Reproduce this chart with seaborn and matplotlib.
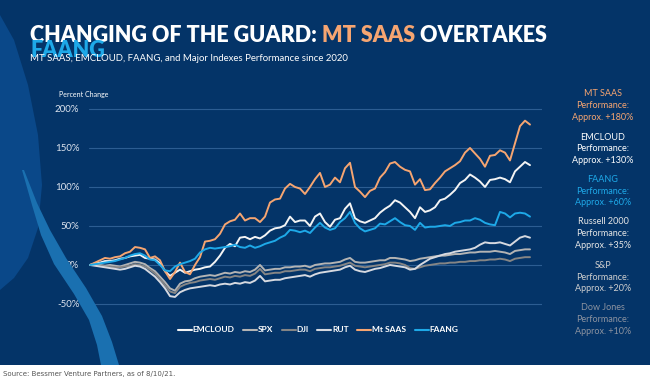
import matplotlib
matplotlib.use("Agg")
import matplotlib.pyplot as plt
import numpy as np
import pandas as pd
import seaborn as sns
from matplotlib.patches import Polygon, Rectangle

# ---------------- data (percent change since 2020) ----------------
mt_saas = [0, 3, 6, 9, 8, 10, 11, 15, 17, 23, 22, 20, 9, 11, 6, -8, -18, -9, 3, -9,
           -12, 0, 10, 30, 31, 33, 40, 52, 56, 58, 66, 57, 60, 60, 55, 62, 80, 84, 85, 98,
           104, 100, 98, 91, 100, 110, 118, 100, 103, 112, 106, 124, 131, 100, 94, 87, 95, 98, 112, 119,
           130, 132, 126, 122, 120, 103, 110, 96, 97, 105, 112, 120, 124, 128, 133, 144, 150, 143, 136, 126,
           140, 141, 147, 144, 134, 156, 178, 185, 180]
emcloud = [0, 2, 3, 5, 5, 6, 8, 9, 11, 12, 13, 9, 8, 7, 2, -8, -14, -10, -6, -10,
           -8, -6, -5, -3, -2, 4, 12, 22, 27, 24, 35, 36, 33, 36, 34, 38, 44, 47, 48, 51,
           62, 55, 57, 57, 50, 62, 66, 55, 49, 58, 60, 72, 79, 60, 56, 54, 57, 60, 67, 72,
           76, 83, 80, 74, 68, 60, 74, 68, 70, 74, 83, 85, 90, 96, 105, 109, 116, 112, 107, 100,
           109, 110, 112, 110, 106, 120, 126, 132, 128]
faang = [0, 1, 2, 3, 4, 5, 7, 9, 12, 14, 15, 12, 7, 6, 0, -7, -8, -2, 1, 3,
         5, 8, 16, 20, 22, 21, 22, 23, 24, 26, 23, 22, 25, 22, 24, 27, 29, 31, 35, 38,
         45, 44, 42, 44, 41, 48, 54, 48, 45, 47, 55, 60, 68, 54, 47, 43, 45, 47, 53, 52,
         56, 60, 55, 51, 50, 45, 54, 48, 49, 49, 50, 51, 50, 54, 55, 57, 57, 60, 58, 54,
         52, 51, 68, 66, 61, 66, 67, 66, 62]
spx = [0, 1, 0, -1, 0, -1, -2, 0, 2, 4, 3, 1, -4, -8, -15, -22, -30, -33, -24, -21,
       -20, -17, -15, -14, -13, -14, -12, -10, -11, -9, -10, -8, -9, -6, 0, -7, -6, -5, -5, -3,
       -3, -2, -2, -1, -3, 0, 1, 2, 2, 3, 4, 7, 9, 4, 3, 3, 4, 5, 6, 6,
       9, 9, 8, 7, 5, 6, 8, 9, 10, 11, 12, 12, 13, 14, 14, 15, 16, 16, 17, 17,
       17, 18, 17, 16, 14, 18, 19, 20, 20]
dji = [0, 0, -1, -2, -2, -3, -3, -2, -1, 1, 0, -2, -6, -11, -18, -26, -34, -36, -28, -25,
       -23, -22, -20, -19, -18, -19, -17, -15, -16, -14, -15, -13, -14, -11, -5, -12, -11, -10, -10, -8,
       -8, -7, -6, -6, -8, -5, -4, -3, -3, -2, -1, 1, 3, -1, -2, -3, -2, -1, 0, 1,
       3, 3, 2, 0, -4, -5, -3, -1, 0, 1, 2, 2, 3, 3, 4, 4, 5, 5, 6, 6,
       7, 7, 8, 7, 5, 8, 9, 10, 10]
rut = [0, -1, -2, -3, -4, -5, -6, -5, -3, -1, -2, -5, -10, -15, -22, -30, -40, -41, -35, -32,
       -30, -29, -28, -27, -26, -27, -25, -24, -25, -23, -24, -22, -23, -20, -14, -21, -20, -19, -19, -17,
       -16, -15, -14, -13, -15, -12, -10, -9, -8, -7, -6, -3, -1, -6, -8, -9, -7, -5, -4, -2,
       0, -1, -2, -3, -6, -5, 0, 4, 8, 10, 12, 14, 15, 17, 18, 19, 20, 22, 26, 29,
       28, 28, 29, 27, 25, 30, 35, 37, 35]

series_names = ["EMCLOUD", "SPX", "DJI", "RUT", "Mt SAAS", "FAANG"]
series_values = [emcloud, spx, dji, rut, mt_saas, faang]
y_ticks = [-50, 0, 50, 100, 150, 200]
y_tick_labels = ["-50%", "0%", "50%", "100%", "150%", "200%"]

annot_names = ["MT SAAS", "EMCLOUD", "FAANG", "Russell 2000", "S&P", "Dow Jones"]
annot_values = ["+180%", "+130%", "+60%", "+35%", "+20%", "+10%"]

title_parts = ["CHANGING OF THE GUARD: ", "MT SAAS", " OVERTAKES"]
title_line2 = "FAANG"
subtitle = "MT SAAS, EMCLOUD, FAANG, and Major Indexes Performance since 2020"
source = "Source: Bessmer Venture Partners, as of 8/10/21."

# ---------------- styling ----------------
BG = "#043468"
ORANGE = "#F6A571"
BLUE = "#1EA9E8"
palette = {"EMCLOUD": "#F4F4F4", "SPX": "#B4B4B4", "DJI": "#858585",
           "RUT": "#D6D9E0", "Mt SAAS": ORANGE, "FAANG": BLUE}
annot_colors = [ORANGE, "#FFFFFF", BLUE, "#E6E6E6", "#CFCFCF", "#8C93A0"]

sns.set_style("dark")
plt.rcParams["font.family"] = ["Lato", "DejaVu Sans"]

W, H = 650, 382
fig = plt.figure(figsize=(6.5, 3.82), dpi=100, facecolor=BG)


def P(x, y):
    return (x / W, 1 - y / H)


# decorative background shapes
light_area = [(0, 15), (14, 40), (28, 85), (38, 135), (42, 185), (38, 228), (28, 258), (14, 278), (0, 290)]
fig.patches.append(Polygon([P(*p) for p in light_area], closed=True, transform=fig.transFigure,
                           facecolor="#0a4889", edgecolor="none", zorder=0))
band_left = [(22, 170), (32, 205), (41, 235), (54, 264), (74, 294), (89, 320), (97, 345), (101, 365)]
band_right = [(24, 170), (37, 203), (50, 230), (66, 258), (86, 288), (102, 316), (112, 342), (119, 365)]
band = band_left + band_right[::-1]
fig.patches.append(Polygon([P(*p) for p in band], closed=True, transform=fig.transFigure,
                           facecolor="#1a70b0", edgecolor="none", zorder=0))
# white footer strip
fig.patches.append(Rectangle((0, 0), 1, 17 / H, transform=fig.transFigure,
                             facecolor="white", edgecolor="none", zorder=1))

# ---------------- chart ----------------
n = len(mt_saas)
df = pd.DataFrame({
    "idx": np.tile(np.arange(n), len(series_names)),
    "value": np.concatenate(series_values),
    "series": np.repeat(series_names, n),
})

ax = fig.add_axes([89 / W, (H - 312) / H, 453 / W, 212 / H])
ax.set_facecolor("none")
sns.lineplot(data=df, x="idx", y="value", hue="series", hue_order=series_names,
             palette=palette, linewidth=1.4, ax=ax)

ax.set_xlim(-0.2, 90.4)
ax.set_ylim(-60.3, 211.5)
ax.set_yticks(y_ticks)
ax.set_yticklabels(y_tick_labels)
ax.set_xticks([])
ax.set_xlabel("")
ax.set_ylabel("")
ax.tick_params(axis="y", length=0, pad=7, labelsize=7, labelcolor="#DCE3EE")
for s in ax.spines.values():
    s.set_visible(False)
ax.grid(False)
for t in y_ticks:
    ax.axhline(t, color="#2c5d92", linewidth=0.8, zorder=0)

sns.move_legend(ax, loc="center", bbox_to_anchor=P(318, 330), bbox_transform=fig.transFigure,
                ncol=6, frameon=False, title=None, fontsize=6, handlelength=1.7,
                handletextpad=0.1, columnspacing=1.0)
leg = ax.get_legend()
for txt in leg.get_texts():
    txt.set_color("white")
    txt.set_fontweight("bold")
for line in leg.get_lines():
    line.set_linewidth(1.5)

fig.text(*P(59, 94), "Percent Change", fontsize=5, color="white", va="center", ha="left")

# ---------------- titles ----------------
renderer = fig.canvas.get_renderer()
x = 30
for part, col in zip(title_parts, ["white", ORANGE, "white"]):
    t = fig.text(*P(x, 42), part, fontsize=15.5, fontweight="heavy", color=col, va="baseline", ha="left")
    bb = t.get_window_extent(renderer=renderer)
    x += bb.width
fig.text(*P(30, 57), title_line2, fontsize=15.5, fontweight="heavy", color=BLUE, va="baseline", ha="left")
fig.text(*P(30, 58.5), subtitle, fontsize=6.9, color="white", va="center", ha="left")

# ---------------- right annotations ----------------
y0s = [94, 137, 179, 222, 265, 308]
for name, val, col, y0 in zip(annot_names, annot_values, annot_colors, y0s):
    fig.text(*P(603, y0), name, fontsize=6.5, color=col, ha="center", va="center")
    fig.text(*P(603, y0 + 12), "Performance:", fontsize=6.5, color=col, ha="center", va="center")
    fig.text(*P(603, y0 + 23.5), "Approx. " + val, fontsize=6.5, color=col, ha="center", va="center")

fig.text(*P(3, 374), source, fontsize=5, color="#555555", ha="left", va="center",
         family=["Liberation Sans Narrow", "DejaVu Sans"])

fig.savefig("out.png", dpi=100, facecolor=BG)
